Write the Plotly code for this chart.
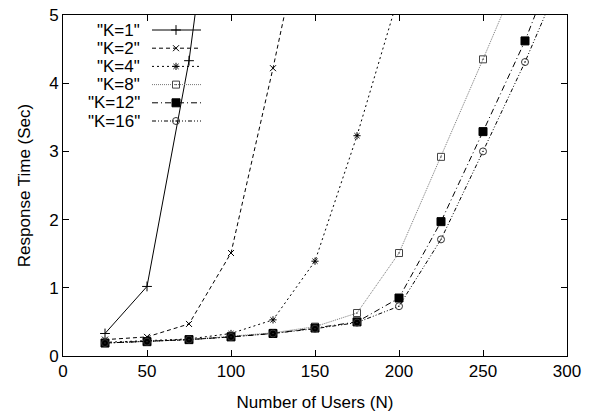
import plotly.graph_objects as go

# ---- data ----
users = [25, 50, 75, 100, 125, 150, 175, 200, 225, 250, 275, 300]
k1 = [0.33, 1.02, 4.33, 9.0]
k2 = [0.24, 0.28, 0.47, 1.51, 4.22, 7.1]
k4 = [0.20, 0.23, 0.25, 0.33, 0.53, 1.39, 3.23, 5.3]
k8 = [0.19, 0.22, 0.24, 0.29, 0.34, 0.43, 0.63, 1.51, 2.92, 4.35, 5.8]
k12 = [0.19, 0.21, 0.24, 0.28, 0.33, 0.41, 0.50, 0.85, 1.97, 3.29, 4.62, 6.2]
k16 = [0.19, 0.21, 0.24, 0.28, 0.33, 0.40, 0.49, 0.73, 1.71, 3.00, 4.31, 5.75]
labels = ['"K=1"', '"K=2"', '"K=4"', '"K=8"', '"K=12"', '"K=16"']
series = [k1, k2, k4, k8, k12, k16]

styles = [
    dict(dash="solid", color="black", symbol="cross-thin", size=7, fill="black"),
    dict(dash="4px,3px", color="black", symbol="x-thin", size=6, fill="black"),
    dict(dash="2px,3px", color="black", symbol="asterisk", size=6, fill="black"),
    dict(dash="1px,1px", color="#777777", symbol="square-open-dot", size=7, fill="#444444"),
    dict(dash="6px,3px,1px,3px", color="black", symbol="square", size=8, fill="black"),
    dict(dash="4px,2px,1px,2px,1px,2px", color="black", symbol="circle-open-dot", size=7, fill="#333333"),
]

FONT = "Liberation Sans, Arial, Helvetica, sans-serif"
L, R, T, B = 63, 567, 15, 356   # plot box in window pixels
W, H = 591, 413

fig = go.Figure()
for vals, st, lab in zip(series, styles, labels):
    fig.add_trace(go.Scatter(
        x=users[:len(vals)], y=vals, mode="lines+markers", name=lab,
        line=dict(color=st["color"], width=1, dash=st["dash"]),
        marker=dict(symbol=st["symbol"], size=st["size"], color=st["fill"],
                    line=dict(color=st["fill"], width=1)),
        showlegend=False,
    ))

# ---- legend (gnuplot style: text left, sample right), in pixel-units axis ----
leg_y0, leg_dy = 30, 18.2
for i, (st, lab) in enumerate(zip(styles, labels)):
    yy = leg_y0 + i * leg_dy
    fig.add_trace(go.Scatter(
        x=[152, 201], y=[yy, yy], mode="lines", xaxis="x2", yaxis="y2",
        line=dict(color=st["color"], width=1, dash=st["dash"]),
        showlegend=False, hoverinfo="skip"))
    fig.add_trace(go.Scatter(
        x=[176], y=[yy], mode="markers", xaxis="x2", yaxis="y2",
        marker=dict(symbol=st["symbol"], size=st["size"], color=st["fill"],
                    line=dict(color=st["fill"], width=1)),
        showlegend=False, hoverinfo="skip"))
    fig.add_annotation(x=141, y=yy, xref="x2", yref="y2", text=lab,
                       showarrow=False, xanchor="right", yanchor="middle",
                       height=15, valign="middle", borderpad=0,
                       font=dict(family=FONT, size=17, color="black"))

fig.update_layout(
    width=W, height=H,
    margin=dict(l=L, r=W - R, t=T, b=H - B, pad=0),
    paper_bgcolor="white", plot_bgcolor="white",
    font=dict(family=FONT, size=17, color="black"),
    xaxis=dict(range=[0, 300], tickvals=[0, 50, 100, 150, 200, 250, 300],
               ticks="inside", ticklen=6, tickcolor="black", mirror="ticks",
               showline=True, linecolor="black", linewidth=1, showgrid=False,
               zeroline=False, automargin=False, ticklabeloverflow="allow",
               title=dict(text="Number of Users (N)", standoff=15,
                          font=dict(family=FONT, size=17))),
    yaxis=dict(range=[0, 5], tickvals=[0, 1, 2, 3, 4, 5],
               ticks="inside", ticklen=6, tickcolor="black", mirror="ticks",
               showline=True, linecolor="black", linewidth=1, showgrid=False,
               zeroline=False, automargin=False, ticklabeloverflow="allow",
               title=dict(text="Response Time (Sec)", standoff=14,
                          font=dict(family=FONT, size=17))),
    xaxis2=dict(range=[L, R], overlaying="x", visible=False, domain=[0, 1],
                automargin=False),
    yaxis2=dict(range=[B, T], overlaying="y", visible=False, automargin=False),
)

fig.write_html("out.html", config={"displayModeBar": False},
               post_script="document.body.style.margin='0';document.body.style.overflow='hidden';")
